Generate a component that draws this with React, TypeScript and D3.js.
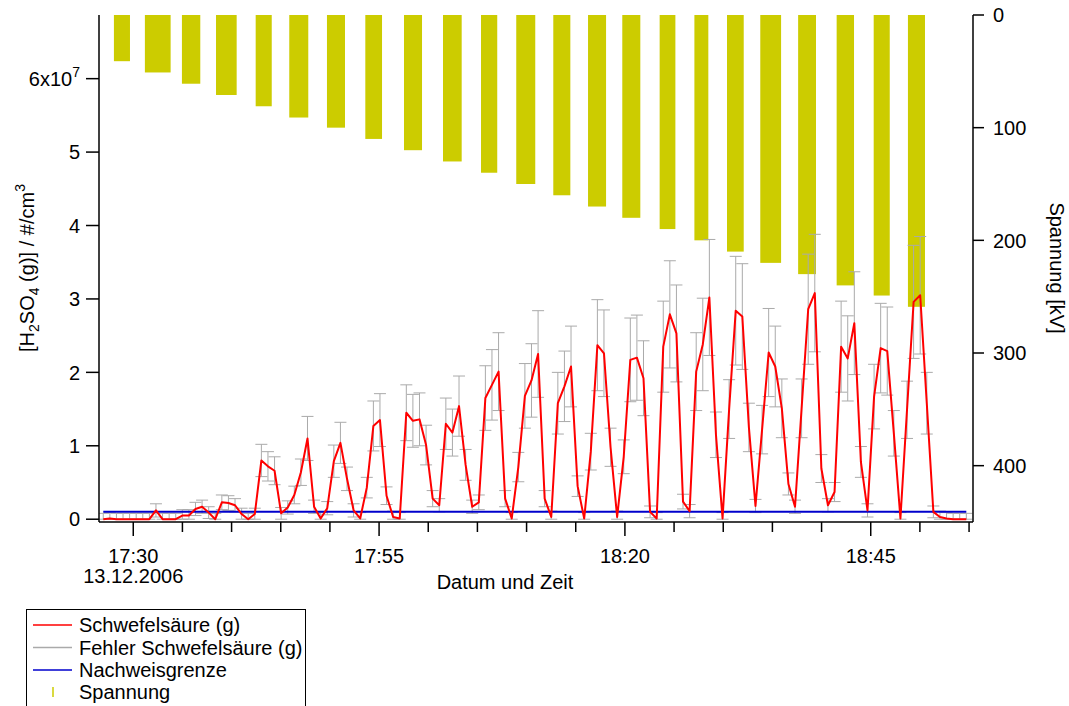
import React from "react";
import * as d3 from "d3";

// ---- Data -------------------------------------------------------------
// Sulphuric acid (gas phase) in units of 1e7 molecules / cm^3,
// sampled at a fixed interval starting at sampleStart.
const sampleStart = "17:26:57";
const sampleStepSeconds = 40.2;

const h2so4 = [
  0.0, 0.01, 0.0, 0.0, 0.0, 0.0, 0.0, 0.0, 0.12, 0.0,
  0.0, 0.0, 0.05, 0.05, 0.14, 0.17, 0.09, 0.0, 0.23, 0.22,
  0.19, 0.07, 0.0, 0.07, 0.8, 0.72, 0.66, 0.08, 0.16, 0.33,
  0.64, 1.1, 0.17, 0.01, 0.15, 0.79, 1.04, 0.55, 0.12, 0.01,
  0.43, 1.27, 1.35, 0.32, 0.03, 0.01, 1.45, 1.34, 1.36, 1.01,
  0.28, 0.19, 1.3, 1.18, 1.54, 0.74, 0.17, 0.23, 1.65, 1.83,
  2.01, 0.28, 0.01, 0.71, 1.68, 1.89, 2.25, 0.28, 0.03, 1.58,
  1.81, 2.08, 0.45, 0.01, 0.92, 2.37, 2.26, 0.98, 0.03, 0.85,
  2.17, 2.2, 1.92, 0.1, 0.01, 2.35, 2.79, 2.53, 0.24, 0.11,
  2.01, 2.38, 3.02, 1.15, 0.01, 1.5, 2.84, 2.76, 1.25, 0.18,
  1.22, 2.27, 2.08, 1.51, 0.48, 0.17, 1.51, 2.86, 3.08, 0.69,
  0.19, 0.37, 2.35, 2.19, 2.67, 0.78, 0.12, 1.67, 2.33, 2.29,
  1.17, 0.01, 1.49, 2.96, 3.05, 1.58, 0.1, 0.03, 0.01, 0.0,
  0.0, 0.0,
];

const h2so4Err = [
  0.08, 0.08, 0.08, 0.08, 0.08, 0.08, 0.08, 0.08, 0.09, 0.08,
  0.08, 0.08, 0.08, 0.08, 0.09, 0.09, 0.08, 0.08, 0.1, 0.1,
  0.09, 0.08, 0.08, 0.08, 0.22, 0.2, 0.19, 0.08, 0.09, 0.12,
  0.18, 0.3, 0.09, 0.08, 0.09, 0.22, 0.28, 0.16, 0.09, 0.08,
  0.14, 0.34, 0.36, 0.12, 0.08, 0.08, 0.38, 0.36, 0.36, 0.27,
  0.11, 0.09, 0.35, 0.32, 0.41, 0.21, 0.09, 0.1, 0.44, 0.48,
  0.53, 0.11, 0.08, 0.2, 0.44, 0.5, 0.59, 0.11, 0.08, 0.42,
  0.48, 0.55, 0.14, 0.08, 0.25, 0.62, 0.59, 0.26, 0.08, 0.23,
  0.57, 0.58, 0.51, 0.08, 0.08, 0.62, 0.73, 0.66, 0.1, 0.09,
  0.53, 0.63, 0.79, 0.31, 0.08, 0.4, 0.74, 0.72, 0.33, 0.09,
  0.33, 0.6, 0.55, 0.4, 0.15, 0.09, 0.4, 0.75, 0.8, 0.19,
  0.09, 0.13, 0.62, 0.58, 0.7, 0.21, 0.09, 0.44, 0.61, 0.6,
  0.31, 0.08, 0.39, 0.77, 0.8, 0.42, 0.08, 0.08, 0.08, 0.08,
  0.08, 0.08,
];

// Detection limit (Nachweisgrenze), 1e7 / cm^3
const detectionLimit = 0.1;

// Applied voltage steps
const voltageStart = [
  "17:28:02", "17:31:11", "17:34:57", "17:38:25", "17:42:27", "17:45:52",
  "17:49:42", "17:53:36", "17:57:32", "18:01:30", "18:05:22", "18:08:57",
  "18:12:43", "18:16:15", "18:19:44", "18:23:32", "18:27:04", "18:30:23",
  "18:33:46", "18:37:37", "18:41:32", "18:45:18", "18:48:47",
];
const voltageEnd = [
  "17:29:40", "17:33:48", "17:36:49", "17:40:31", "17:44:05", "17:47:48",
  "17:51:32", "17:55:18", "17:59:22", "18:03:24", "18:07:01", "18:10:53",
  "18:14:27", "18:18:05", "18:21:34", "18:25:08", "18:28:29", "18:32:05",
  "18:35:53", "18:39:26", "18:43:18", "18:46:56", "18:50:31",
];
const voltageKV = [
  41, 51, 61, 71, 81, 91, 100, 110, 120, 130, 140, 150,
  160, 170, 180, 190, 200, 210, 220, 230, 240, 249, 259,
];

// Axis ticks
const leftTicks = [0, 1, 2, 3, 4, 5, 6];
const rightTicks = [0, 100, 200, 300, 400];
const timeDomain = ["17:26:31", "18:55:24"];
const majorTickStepMin = 25;
const minorTickStepMin = 5;
const dateLabel = "13.12.2006";

// ---- Layout -----------------------------------------------------------
const W = 1069;
const H = 706;
const plot = { left: 99, right: 973, top: 15, bottom: 522 };
const FONT = "'Liberation Sans', Arial, Helvetica, sans-serif";
const FS = 20;
const FS_SMALL = 14;

function parseT(s: string): Date {
  const [h, m, sec] = s.split(":").map(Number);
  return new Date(2006, 11, 13, h, m, sec || 0);
}

export default function App() {
  const x = d3
    .scaleTime()
    .domain(timeDomain.map(parseT))
    .range([plot.left, plot.right]);
  const yL = d3.scaleLinear().domain([-0.038, 6.867]).range([plot.bottom, plot.top]);
  const yR = d3.scaleLinear().domain([0, 450]).range([plot.top, plot.bottom]);

  const t0 = parseT(sampleStart).getTime();
  const times = h2so4.map((_, i) => new Date(t0 + i * sampleStepSeconds * 1000));

  const line = d3
    .line<number>()
    .x((_, i) => x(times[i]))
    .y((d) => yL(d));

  const anchor = parseT("17:30:00");
  const ticks = x.ticks(d3.timeMinute.every(minorTickStepMin) as d3.TimeInterval);
  const fmt = d3.timeFormat("%H:%M");

  const capHalf = 6;

  return (
    <svg
      width={W}
      height={H}
      style={{ position: "absolute", left: 0, top: 0, background: "#fff" }}
      fontFamily={FONT}
      fontSize={FS}
    >
      <defs>
        <clipPath id="plotClip">
          <rect x={plot.left} y={plot.top} width={plot.right - plot.left} height={plot.bottom - plot.top} />
        </clipPath>
      </defs>

      <g clipPath="url(#plotClip)">
        {/* Spannung bars hanging from the top (reversed right axis) */}
        {voltageKV.map((kv, i) => {
          const x0 = x(parseT(voltageStart[i]));
          const x1 = x(parseT(voltageEnd[i]));
          return (
            <rect
              key={"b" + i}
              x={x0}
              y={yR(0)}
              width={x1 - x0}
              height={yR(kv) - yR(0)}
              fill="#cccc00"
            />
          );
        })}

        {/* error bars */}
        {h2so4.map((v, i) => {
          const cx = x(times[i]);
          const hi = yL(v + h2so4Err[i]);
          const lo = yL(Math.max(0, v - h2so4Err[i]));
          return (
            <g key={"e" + i} stroke="#aaaaaa" strokeWidth={1}>
              <line x1={cx} x2={cx} y1={hi} y2={lo} />
              <line x1={cx - capHalf} x2={cx + capHalf} y1={hi} y2={hi} />
              <line x1={cx - capHalf} x2={cx + capHalf} y1={lo} y2={lo} />
            </g>
          );
        })}

        {/* detection limit */}
        <line
          x1={x(times[0])}
          x2={x(times[times.length - 1])}
          y1={yL(detectionLimit)}
          y2={yL(detectionLimit)}
          stroke="#0000cc"
          strokeWidth={2}
        />

        {/* sulphuric acid */}
        <path d={line(h2so4) || ""} fill="none" stroke="#ff0000" strokeWidth={2} strokeLinejoin="round" />
      </g>

      {/* axes */}
      <g stroke="#000" strokeWidth={1.5} fill="none">
        <line x1={plot.left} x2={plot.left} y1={plot.top} y2={plot.bottom} />
        <line x1={plot.right} x2={plot.right} y1={plot.top} y2={plot.bottom} />
        <line x1={plot.left} x2={plot.right} y1={plot.bottom} y2={plot.bottom} />
      </g>

      {/* left axis */}
      {leftTicks.map((t) => (
        <g key={"l" + t}>
          <line x1={plot.left - 13} x2={plot.left} y1={yL(t)} y2={yL(t)} stroke="#000" strokeWidth={1.5} />
          <text x={plot.left - 19} y={yL(t)} dy="0.36em" textAnchor="end">
            {t === 6 ? (
              <>
                6x10
                <tspan fontSize={FS_SMALL} dy="-9">7</tspan>
              </>
            ) : (
              String(t)
            )}
          </text>
        </g>
      ))}

      {/* right axis */}
      {rightTicks.map((t) => (
        <g key={"r" + t}>
          <line x1={plot.right} x2={plot.right + 11} y1={yR(t)} y2={yR(t)} stroke="#000" strokeWidth={1.5} />
          <text x={plot.right + 20} y={yR(t)} dy="0.36em" textAnchor="start">
            {t}
          </text>
        </g>
      ))}

      {/* bottom axis */}
      {ticks.map((t, i) => {
        const mins = Math.round((t.getTime() - anchor.getTime()) / 60000);
        const major = mins % majorTickStepMin === 0;
        const tx = x(t);
        return (
          <g key={"t" + i}>
            <line x1={tx} x2={tx} y1={plot.bottom} y2={plot.bottom + (major ? 14 : 10)} stroke="#000" strokeWidth={1.5} />
            {major && (
              <text x={tx} y={563} textAnchor="middle">
                {fmt(t)}
              </text>
            )}
            {major && mins === 0 && (
              <text x={tx} y={583} textAnchor="middle">
                {dateLabel}
              </text>
            )}
          </g>
        );
      })}

      {/* axis titles */}
      <text x={505} y={589} textAnchor="middle">
        Datum und Zeit
      </text>
      <text transform="translate(34,268) rotate(-90)" textAnchor="middle">
        [H<tspan fontSize={FS_SMALL} dy="5">2</tspan>
        <tspan dy="-5">SO</tspan>
        <tspan fontSize={FS_SMALL} dy="5">4</tspan>
        <tspan dy="-5"> (g)] / #/cm</tspan>
        <tspan fontSize={FS_SMALL} dy="-9">3</tspan>
      </text>
      <text transform="translate(1050,268) rotate(90)" textAnchor="middle">
        Spannung [kV]
      </text>

      {/* legend */}
      <rect x={26.5} y={609.5} width={279} height={120} fill="#fff" stroke="#000" strokeWidth={1} />
      <line x1={33} x2={72} y1={625} y2={625} stroke="#ff0000" strokeWidth={1.5} />
      <text x={79} y={632}>Schwefelsäure (g)</text>
      <line x1={33} x2={72} y1={647.5} y2={647.5} stroke="#aaaaaa" strokeWidth={1.5} />
      <text x={79} y={654.5}>Fehler Schwefelsäure (g)</text>
      <line x1={33} x2={72} y1={670} y2={670} stroke="#0000cc" strokeWidth={1.5} />
      <text x={79} y={677}>Nachweisgrenze</text>
      <line x1={53} x2={53} y1={687} y2={697} stroke="#cccc00" strokeWidth={1.5} />
      <text x={79} y={699}>Spannung</text>
    </svg>
  );
}
